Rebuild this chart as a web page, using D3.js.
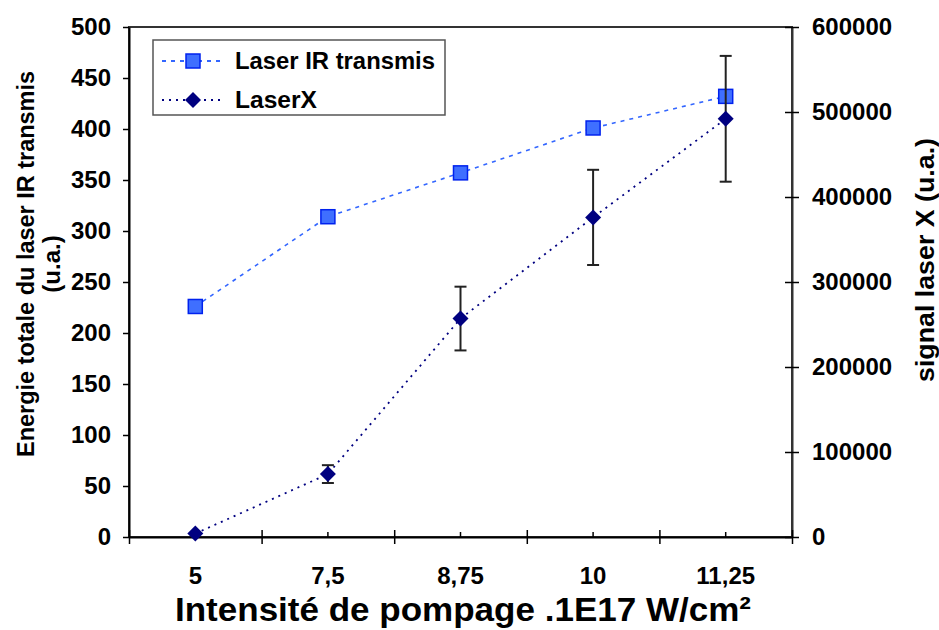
<!DOCTYPE html>
<html>
<head>
<meta charset="utf-8">
<script src="https://cdn.jsdelivr.net/npm/d3@7"></script>
<style>
  html, body { margin: 0; padding: 0; background: #fff; }
  svg { display: block; font-family: "Liberation Sans", Arial, sans-serif; font-weight: bold; }
</style>
</head>
<body>
<svg id="chart" width="939" height="630"></svg>
<script>
// Pump intensity categories (x 1E17 W/cm²)
const categories = ["5", "7,5", "8,75", "10", "11,25"];
// Total transmitted IR laser energy (left axis, a.u.)
const irTransmis = [226, 314, 357, 401, 432];
// X-ray laser signal (right axis, a.u.) and its error half-widths
const laserX = [4000, 74000, 257000, 376000, 492000];
const laserXErr = [0, 10500, 37500, 56000, 74000];
// Axis tick values
const leftTicks = [0, 50, 100, 150, 200, 250, 300, 350, 400, 450, 500];
const rightTicks = [0, 100000, 200000, 300000, 400000, 500000, 600000];

const plot = { left: 129, right: 792, top: 27, bottom: 537 };
const tickFont = 24;

const svg = d3.select("#chart");

const x = d3.scaleBand().domain(categories).range([plot.left, plot.right]);
const xEdges = d3.scaleLinear().domain([0, categories.length]).range([plot.left, plot.right]);
const yL = d3.scaleLinear().domain([0, 500]).range([plot.bottom, plot.top]);
const yR = d3.scaleLinear().domain([0, 600000]).range([plot.bottom, plot.top]);

// Plot frame
svg.append("rect")
  .attr("x", plot.left).attr("y", plot.top)
  .attr("width", plot.right - plot.left).attr("height", plot.bottom - plot.top)
  .attr("fill", "none").attr("stroke", "#333").attr("stroke-width", 2);

function styleAxis(g) {
  g.selectAll("path.domain").attr("stroke", "#000").attr("stroke-width", 2);
  g.selectAll(".tick line").attr("stroke", "#000").attr("stroke-width", 1.5);
  g.selectAll(".tick text")
    .attr("fill", "#000")
    .style("font-size", tickFont + "px")
    .style("font-weight", "bold")
    .style("font-family", "'Liberation Sans', Arial, sans-serif");
}

// Left axis
const gL = svg.append("g").attr("transform", `translate(${plot.left},0)`)
  .call(d3.axisLeft(yL).tickValues(leftTicks).tickSizeInner(6).tickSizeOuter(0).tickPadding(12));
styleAxis(gL);

// Right axis (ticks cross the axis line)
const gR = svg.append("g").attr("transform", `translate(${plot.right},0)`)
  .call(d3.axisRight(yR).tickValues(rightTicks).tickFormat(d3.format("d"))
    .tickSizeInner(7).tickSizeOuter(0).tickPadding(13));
styleAxis(gR);
gR.select("path.domain").attr("stroke", "#333");
gR.selectAll(".tick line").attr("x1", -7);

// Bottom axis: major ticks on category boundaries
const gB = svg.append("g").attr("transform", `translate(0,${plot.bottom})`)
  .call(d3.axisBottom(xEdges).ticks(categories.length).tickFormat("").tickSizeInner(7).tickSizeOuter(0));
styleAxis(gB);
gB.selectAll(".tick line").attr("y1", -7);

// Bottom axis: small ticks and labels at category centres
const gB2 = svg.append("g").attr("transform", `translate(0,${plot.bottom})`)
  .call(d3.axisBottom(x).tickSizeInner(-5).tickSizeOuter(0).tickPadding(30));
styleAxis(gB2);
gB2.select("path.domain").remove();

// Axis titles
svg.append("text")
  .attr("x", 463).attr("y", 621)
  .attr("text-anchor", "middle")
  .style("font-size", "34px")
  .attr("textLength", 576).attr("lengthAdjust", "spacingAndGlyphs")
  .text("Intensité de pompage .1E17 W/cm²");

const leftTitle = svg.append("g").attr("transform", "translate(34,264) rotate(-90)");
leftTitle.append("text").attr("text-anchor", "middle").attr("y", 0)
  .style("font-size", "24px")
  .attr("textLength", 386).attr("lengthAdjust", "spacingAndGlyphs")
  .text("Energie totale du laser IR transmis");
leftTitle.append("text").attr("text-anchor", "middle").attr("y", 26)
  .style("font-size", "24px").text("(u.a.)");

svg.append("text")
  .attr("transform", "translate(934,260) rotate(-90)")
  .attr("text-anchor", "middle")
  .style("font-size", "26px")
  .attr("textLength", 244).attr("lengthAdjust", "spacingAndGlyphs")
  .text("signal laser X (u.a.)");

const cx = d => x(d) + x.bandwidth() / 2;

// IR transmission series
const irData = categories.map((c, i) => ({ c, v: irTransmis[i] }));
svg.append("path")
  .datum(irData)
  .attr("fill", "none").attr("stroke", "#3366ff").attr("stroke-width", 1.6)
  .attr("stroke-dasharray", "4,5")
  .attr("d", d3.line().x(d => cx(d.c)).y(d => yL(d.v)));
svg.selectAll("rect.ir")
  .data(irData).join("rect").attr("class", "ir")
  .attr("x", d => cx(d.c) - 7).attr("y", d => yL(d.v) - 7)
  .attr("width", 14).attr("height", 14)
  .attr("fill", "#3f6fff").attr("stroke", "#0022ee").attr("stroke-width", 1.5);

// Laser X series
const xData = categories.map((c, i) => ({ c, v: laserX[i], e: laserXErr[i] }));
svg.append("path")
  .datum(xData)
  .attr("fill", "none").attr("stroke", "#000080").attr("stroke-width", 1.8)
  .attr("stroke-dasharray", "2,5")
  .attr("d", d3.line().x(d => cx(d.c)).y(d => yR(d.v)));

// Error bars
const eb = svg.selectAll("g.err").data(xData.filter(d => d.e > 0)).join("g").attr("class", "err")
  .attr("stroke", "#222").attr("stroke-width", 2);
eb.append("line")
  .attr("x1", d => cx(d.c)).attr("x2", d => cx(d.c))
  .attr("y1", d => yR(d.v + d.e)).attr("y2", d => yR(d.v - d.e));
eb.append("line")
  .attr("x1", d => cx(d.c) - 6).attr("x2", d => cx(d.c) + 6)
  .attr("y1", d => yR(d.v + d.e)).attr("y2", d => yR(d.v + d.e));
eb.append("line")
  .attr("x1", d => cx(d.c) - 6).attr("x2", d => cx(d.c) + 6)
  .attr("y1", d => yR(d.v - d.e)).attr("y2", d => yR(d.v - d.e));

const diamond = d3.symbol().type(d3.symbolSquare).size(128);
svg.selectAll("path.lx")
  .data(xData).join("path").attr("class", "lx")
  .attr("d", diamond)
  .attr("transform", d => `translate(${cx(d.c)},${yR(d.v)}) rotate(45)`)
  .attr("fill", "#000080");

// Legend
const lg = svg.append("g");
lg.append("rect").attr("x", 153).attr("y", 40).attr("width", 292).attr("height", 75)
  .attr("fill", "#fff").attr("stroke", "#555").attr("stroke-width", 1.5);
const legendItems = [
  { label: "Laser IR transmis", color: "#3366ff", dash: "4,5", y: 61, len: 200 },
  { label: "LaserX", color: "#000080", dash: "2,5", y: 100, len: 82 }
];
legendItems.forEach((it, i) => {
  lg.append("line").attr("x1", 162).attr("x2", 224).attr("y1", it.y).attr("y2", it.y)
    .attr("stroke", it.color).attr("stroke-width", 1.8).attr("stroke-dasharray", it.dash);
  if (i === 0) {
    lg.append("rect").attr("x", 186).attr("y", it.y - 7).attr("width", 14).attr("height", 14)
      .attr("fill", "#3f6fff").attr("stroke", "#0022ee").attr("stroke-width", 1.5);
  } else {
    lg.append("path").attr("d", diamond)
      .attr("transform", `translate(193,${it.y}) rotate(45)`).attr("fill", "#000080");
  }
  lg.append("text").attr("x", 235).attr("y", it.y + 8)
    .style("font-size", "23px")
    .attr("textLength", it.len).attr("lengthAdjust", "spacingAndGlyphs")
    .text(it.label);
});
</script>
</body>
</html>
